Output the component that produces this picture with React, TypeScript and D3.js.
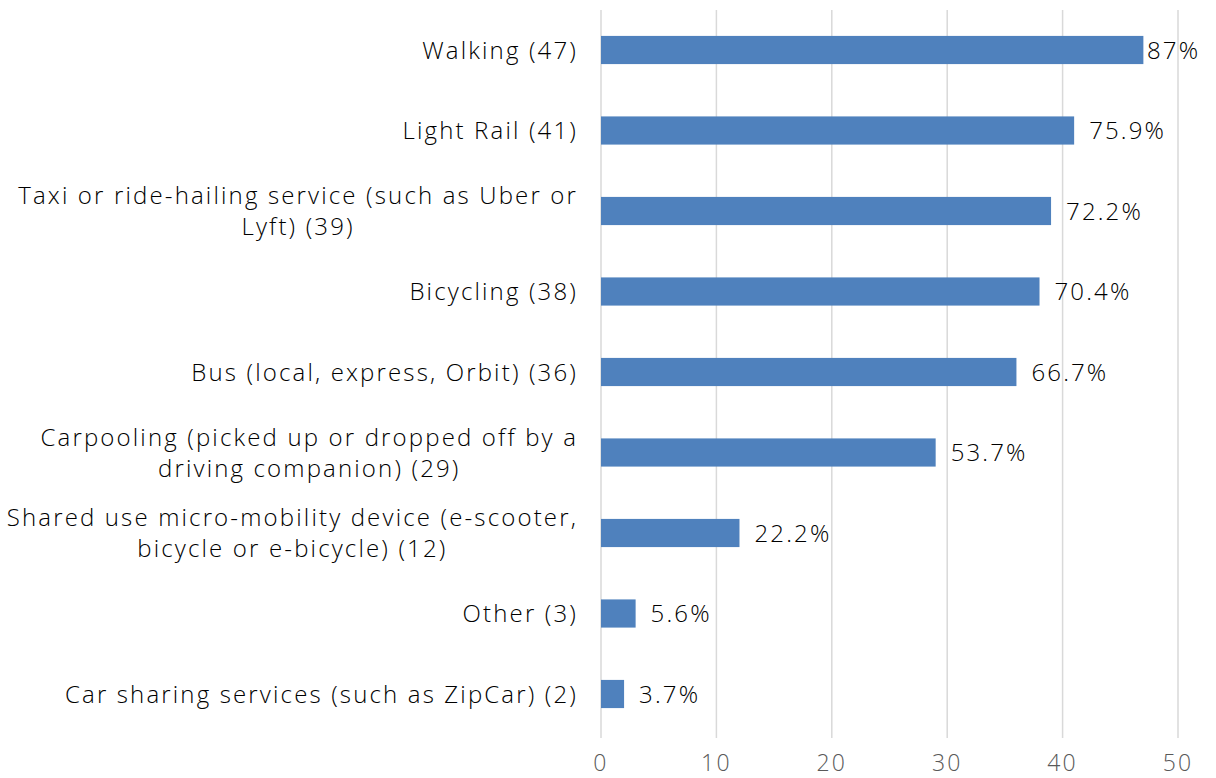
import React, { useEffect, useRef } from "react";
import * as d3 from "d3";

const categories: string[][] = [
  ["Walking (47)"],
  ["Light Rail (41)"],
  ["Taxi or ride-hailing service (such as Uber or", "Lyft) (39)"],
  ["Bicycling (38)"],
  ["Bus (local, express, Orbit) (36)"],
  ["Carpooling (picked up or dropped off by a", "driving companion) (29)"],
  ["Shared use micro-mobility device (e-scooter,", "bicycle or e-bicycle) (12)"],
  ["Other (3)"],
  ["Car sharing services (such as ZipCar) (2)"],
];
const values: number[] = [47, 41, 39, 38, 36, 29, 12, 3, 2];
const pctLabels: string[] = ["87%", "75.9%", "72.2%", "70.4%", "66.7%", "53.7%", "22.2%", "5.6%", "3.7%"];
const xTicks: number[] = [0, 10, 20, 30, 40, 50];

const W = 1216;
const H = 778;
const FONT = "'Open Sans', Lato, sans-serif";
const FS = 24;
const WEIGHT = 300;

export default function App() {
  const ref = useRef<SVGSVGElement | null>(null);

  useEffect(() => {
    const svg = d3.select(ref.current);
    svg.selectAll("*").remove();

    const probeText = "Car sharing services (such as ZipCar) (2)";
    const probe = svg
      .append("text")
      .attr("font-family", FONT)
      .attr("font-size", FS)
      .attr("font-weight", WEIGHT)
      .text(probeText);
    const natural = (probe.node() as SVGTextElement).getComputedTextLength();
    const LS = Math.max(0, (513 - natural) / probeText.length);
    probe.remove();

    const x = d3.scaleLinear().domain([0, 50]).range([601, 1178]);
    const y = d3
      .scaleBand<number>()
      .domain(d3.range(categories.length))
      .range([9.75, 734.25])
      .paddingInner(0.65)
      .paddingOuter(0.325);

    const styleText = (sel: any, fs: number = FS) =>
      sel
        .attr("font-family", FONT)
        .attr("font-size", fs)
        .attr("font-weight", WEIGHT)
        .attr("letter-spacing", LS);

    svg
      .append("g")
      .selectAll("line")
      .data(xTicks)
      .join("line")
      .attr("x1", (d) => x(d))
      .attr("x2", (d) => x(d))
      .attr("y1", 10)
      .attr("y2", 738)
      .attr("stroke", "#D9D9D9")
      .attr("stroke-width", 1.5);

    svg
      .append("g")
      .selectAll("rect")
      .data(values)
      .join("rect")
      .attr("x", x(0))
      .attr("y", (_, i) => y(i)!)
      .attr("width", (d) => x(d) - x(0))
      .attr("height", y.bandwidth())
      .attr("fill", "#4F81BD");

    svg
      .append("g")
      .selectAll("text")
      .data(values)
      .join("text")
      .attr("x", (d) => Math.min(x(d) + 15, 1147))
      .attr("y", (_, i) => y(i)! + y.bandwidth() / 2)
      .attr("dy", "0.36em")
      .call(styleText)
      .attr("fill", "#000")
      .text((_, i) => pctLabels[i]);

    const labelRight = 578;
    const lineH = 31;
    const cg = svg.append("g");
    categories.forEach((lines, i) => {
      const cy = y(i)! + y.bandwidth() / 2;
      const n = lines.length;
      const first = cg
        .append("text")
        .attr("x", labelRight)
        .attr("y", cy - ((n - 1) * lineH) / 2)
        .attr("dy", "0.36em")
        .attr("text-anchor", "end")
        .call(styleText)
        .attr("fill", "#000")
        .text(lines[0]);
      if (n > 1) {
        const w = (first.node() as SVGTextElement).getComputedTextLength();
        const center = labelRight - w / 2;
        for (let k = 1; k < n; k++) {
          cg.append("text")
            .attr("x", center)
            .attr("y", cy - ((n - 1) * lineH) / 2 + k * lineH)
            .attr("dy", "0.36em")
            .attr("text-anchor", "middle")
            .call(styleText)
            .attr("fill", "#000")
            .text(lines[k]);
        }
      }
    });

    svg
      .append("g")
      .selectAll("text")
      .data(xTicks)
      .join("text")
      .attr("x", (d) => x(d))
      .attr("y", 771)
      .attr("text-anchor", "middle")
      .call((s: any) => styleText(s, 23))
      .attr("fill", "#595959")
      .text((d) => String(d));
  }, []);

  return (
    <div style={{ position: "fixed", left: 0, top: 0 }}>
      <svg ref={ref} width={W} height={H} style={{ display: "block", background: "#fff" }} />
    </div>
  );
}
